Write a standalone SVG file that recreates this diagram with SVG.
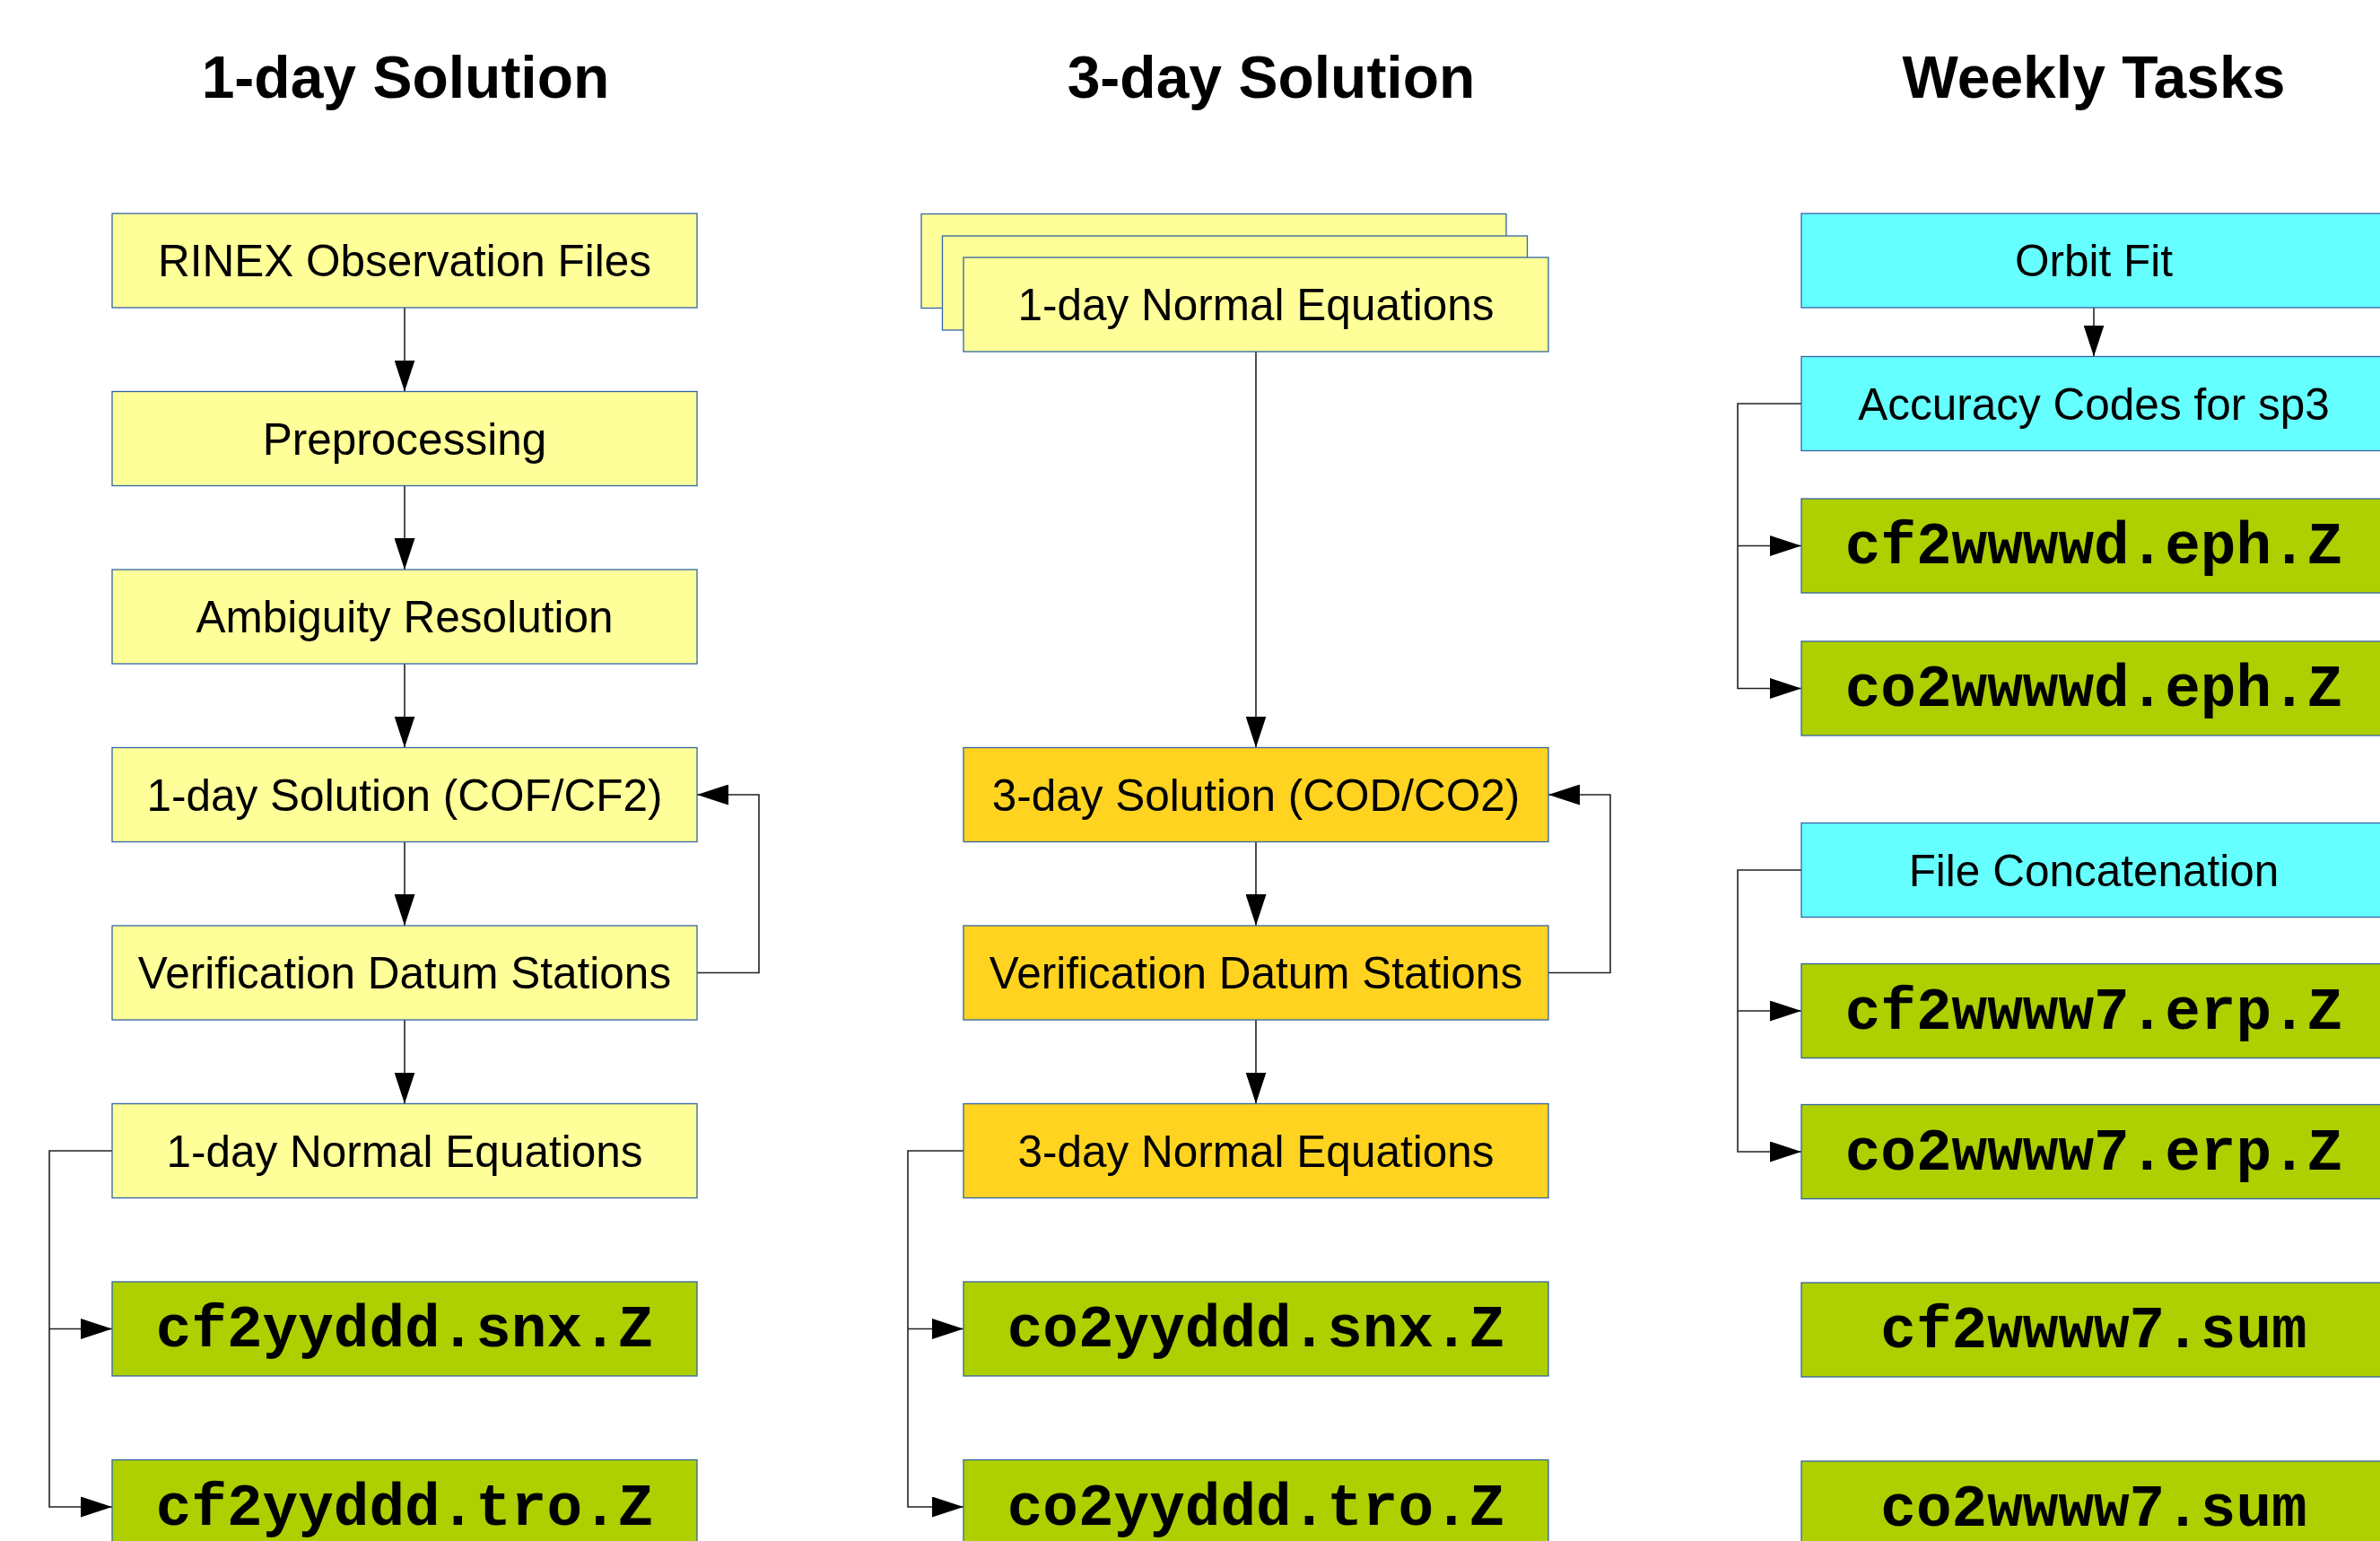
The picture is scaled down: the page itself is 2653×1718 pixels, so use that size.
<svg xmlns="http://www.w3.org/2000/svg" width="2653" height="1718" viewBox="0 0 2653 1718">
<style>
.title{font-family:"Liberation Sans",Arial,sans-serif;font-weight:bold;font-size:66px;fill:#000;text-anchor:middle}
.lbl{font-family:"Liberation Sans",Arial,sans-serif;font-size:49.5px;fill:#000;text-anchor:middle}
.mono{font-family:"Liberation Mono","Courier New",monospace;font-weight:bold;font-size:66px;fill:#000;text-anchor:middle}
.box{stroke:#3465a4;stroke-width:1.3}
.y{fill:#ffff99}.g{fill:#ffd320}.c{fill:#66ffff}.gr{fill:#aecf00}
.con{fill:none;stroke:#222;stroke-width:1.6}
</style>
<defs>
<marker id="ah" markerUnits="userSpaceOnUse" viewBox="0 0 35 23" markerWidth="35" markerHeight="23" refX="35" refY="11.5" orient="auto">
<path d="M0,0 L35,11.5 L0,23 z" fill="#000"/>
</marker>
</defs>
<rect width="2653" height="1718" fill="#fff"/>
<g id="titles">
<text class="title" x="452" y="109">1-day Solution</text>
<text class="title" x="1417" y="109">3-day Solution</text>
<text class="title" x="2334" y="109">Weekly Tasks</text>
</g>
<g id="connectors">
<path class="con" marker-end="url(#ah)" d="M451,343 V436.5"/>
<path class="con" marker-end="url(#ah)" d="M451,541.5 V635"/>
<path class="con" marker-end="url(#ah)" d="M451,740 V833.5"/>
<path class="con" marker-end="url(#ah)" d="M451,938.5 V1032"/>
<path class="con" marker-end="url(#ah)" d="M451,1137 V1230.5"/>
<path class="con" marker-end="url(#ah)" d="M777,1084.5 H846 V886 H777"/>
<path class="con" marker-end="url(#ah)" d="M125,1283 H55 V1680 H125"/>
<path class="con" marker-end="url(#ah)" d="M55,1481.5 H125"/>
<path class="con" marker-end="url(#ah)" d="M1400,392 V833.5"/>
<path class="con" marker-end="url(#ah)" d="M1400,938.5 V1032"/>
<path class="con" marker-end="url(#ah)" d="M1400,1137 V1230.5"/>
<path class="con" marker-end="url(#ah)" d="M1726,1084.5 H1795 V886 H1726"/>
<path class="con" marker-end="url(#ah)" d="M1074,1283 H1012 V1680 H1074"/>
<path class="con" marker-end="url(#ah)" d="M1012,1481.5 H1074"/>
<path class="con" marker-end="url(#ah)" d="M2334,343 V397.5"/>
<path class="con" marker-end="url(#ah)" d="M2008,450 H1937 V767.5 H2008"/>
<path class="con" marker-end="url(#ah)" d="M1937,608.5 H2008"/>
<path class="con" marker-end="url(#ah)" d="M2008,970 H1937 V1284 H2008"/>
<path class="con" marker-end="url(#ah)" d="M1937,1127 H2008"/>
</g>
<g id="n-rinex"><rect class="box y" x="125" y="238" width="652" height="105"/><text class="lbl" x="451" y="308">RINEX Observation Files</text></g>
<g id="n-prep"><rect class="box y" x="125" y="436.5" width="652" height="105"/><text class="lbl" x="451" y="506.5">Preprocessing</text></g>
<g id="n-amb"><rect class="box y" x="125" y="635" width="652" height="105"/><text class="lbl" x="451" y="705">Ambiguity Resolution</text></g>
<g id="n-sol1"><rect class="box y" x="125" y="833.5" width="652" height="105"/><text class="lbl" x="451" y="903.5">1-day Solution (COF/CF2)</text></g>
<g id="n-ver1"><rect class="box y" x="125" y="1032" width="652" height="105"/><text class="lbl" x="451" y="1102">Verification Datum Stations</text></g>
<g id="n-ne1"><rect class="box y" x="125" y="1230.5" width="652" height="105"/><text class="lbl" x="451" y="1300.5">1-day Normal Equations</text></g>
<g id="n-cf2snx"><rect class="box gr" x="125" y="1429" width="652" height="105"/><text class="mono" x="451" y="1501">cf2yyddd.snx.Z</text></g>
<g id="n-cf2tro"><rect class="box gr" x="125" y="1627.5" width="652" height="105"/><text class="mono" x="451" y="1699.5">cf2yyddd.tro.Z</text></g>
<g id="n-ne1stack">
<rect class="box y" x="1027" y="238.5" width="652" height="105"/>
<rect class="box y" x="1050.5" y="263" width="652" height="105"/>
<rect class="box y" x="1074" y="287" width="652" height="105"/>
<text class="lbl" x="1400" y="357">1-day Normal Equations</text>
</g>
<g id="n-sol3"><rect class="box g" x="1074" y="833.5" width="652" height="105"/><text class="lbl" x="1400" y="903.5">3-day Solution (COD/CO2)</text></g>
<g id="n-ver3"><rect class="box g" x="1074" y="1032" width="652" height="105"/><text class="lbl" x="1400" y="1102">Verification Datum Stations</text></g>
<g id="n-ne3"><rect class="box g" x="1074" y="1230.5" width="652" height="105"/><text class="lbl" x="1400" y="1300.5">3-day Normal Equations</text></g>
<g id="n-co2snx"><rect class="box gr" x="1074" y="1429" width="652" height="105"/><text class="mono" x="1400" y="1501">co2yyddd.snx.Z</text></g>
<g id="n-co2tro"><rect class="box gr" x="1074" y="1627.5" width="652" height="105"/><text class="mono" x="1400" y="1699.5">co2yyddd.tro.Z</text></g>
<g id="n-orbit"><rect class="box c" x="2008" y="238" width="652" height="105"/><text class="lbl" x="2334" y="308">Orbit Fit</text></g>
<g id="n-acc"><rect class="box c" x="2008" y="397.5" width="652" height="105"/><text class="lbl" x="2334" y="467.5">Accuracy Codes for sp3</text></g>
<g id="n-cf2eph"><rect class="box gr" x="2008" y="556" width="652" height="105"/><text class="mono" x="2334" y="628">cf2wwwwd.eph.Z</text></g>
<g id="n-co2eph"><rect class="box gr" x="2008" y="715" width="652" height="105"/><text class="mono" x="2334" y="787">co2wwwwd.eph.Z</text></g>
<g id="n-concat"><rect class="box c" x="2008" y="917.5" width="652" height="105"/><text class="lbl" x="2334" y="987.5">File Concatenation</text></g>
<g id="n-cf2erp"><rect class="box gr" x="2008" y="1074.5" width="652" height="105"/><text class="mono" x="2334" y="1146.5">cf2wwww7.erp.Z</text></g>
<g id="n-co2erp"><rect class="box gr" x="2008" y="1231.5" width="652" height="105"/><text class="mono" x="2334" y="1303.5">co2wwww7.erp.Z</text></g>
<g id="n-cf2sum"><rect class="box gr" x="2008" y="1430" width="652" height="105"/><text class="mono" x="2334" y="1502">cf2wwww7.sum</text></g>
<g id="n-co2sum"><rect class="box gr" x="2008" y="1629" width="652" height="105"/><text class="mono" x="2334" y="1701">co2wwww7.sum</text></g>
</svg>
